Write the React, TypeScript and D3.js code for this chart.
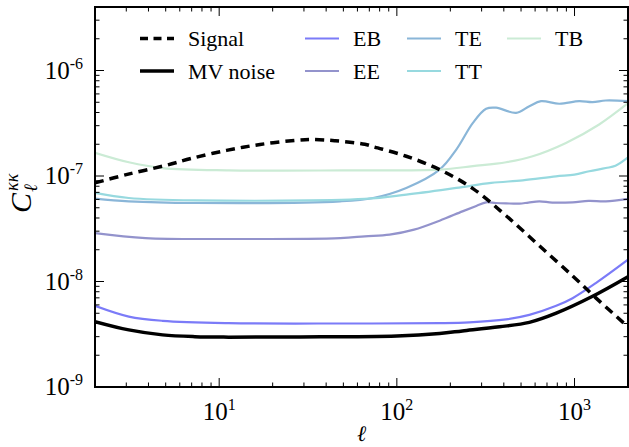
import React from "react";
import * as d3 from "d3";

const signalL = [2, 3, 5, 7, 11, 17, 27, 33, 45, 66, 75, 113, 174, 268, 412, 634, 975, 1318, 2000];
const signalC = [8.6e-8, 1.03e-7, 1.26e-7, 1.47e-7, 1.75e-7, 1.99e-7, 2.18e-7, 2.22e-7, 2.16e-7, 2.0e-7, 1.88e-7, 1.54e-7, 1.15e-7, 7.6e-8, 4.2e-8, 2.18e-8, 1.13e-8, 7.0e-9, 3.72e-9];

const mvL = [2, 3.1, 4.8, 7.3, 11.3, 28.5, 100, 174, 234, 378, 557, 789, 1256, 2000];
const mvC = [4.17e-9, 3.48e-9, 3.12e-9, 3.0e-9, 2.97e-9, 2.98e-9, 3.05e-9, 3.22e-9, 3.4e-9, 3.72e-9, 4.1e-9, 5.01e-9, 7.2e-9, 1.11e-8];

const ebL = [2, 3.1, 4.8, 11.3, 50, 174, 256, 412, 557, 789, 975, 1318, 2000];
const ebC = [5.88e-9, 4.65e-9, 4.24e-9, 4.03e-9, 4.0e-9, 4.03e-9, 4.1e-9, 4.38e-9, 4.83e-9, 5.88e-9, 6.95e-9, 9.66e-9, 1.61e-8];

const eeL = [2, 3.85, 11.3, 48, 66, 91, 125, 174, 234, 280, 318, 360, 412, 489, 550, 634, 750, 975, 1200, 1500, 2000];
const eeC = [2.88e-8, 2.58e-8, 2.53e-8, 2.58e-8, 2.68e-8, 2.78e-8, 3.1e-8, 3.77e-8, 4.62e-8, 5.2e-8, 5.63e-8, 5.55e-8, 5.5e-8, 5.47e-8, 5.6e-8, 5.75e-8, 5.6e-8, 5.63e-8, 5.8e-8, 5.75e-8, 6.06e-8];

const teL = [2, 3.1, 7.3, 48, 73.5, 113, 174, 216, 268, 318, 362, 469, 557, 648, 821, 1063, 1263, 1500, 2000];
const teC = [6.1e-8, 5.75e-8, 5.55e-8, 5.75e-8, 6.19e-8, 7.71e-8, 1.15e-7, 1.78e-7, 3.19e-7, 4.34e-7, 4.44e-7, 3.97e-7, 4.59e-7, 5.12e-7, 4.84e-7, 5.12e-7, 5.01e-7, 5.2e-7, 5.12e-7];

const ttL = [2, 3.1, 7.3, 66, 113, 216, 340, 511, 786, 1000, 1210, 1500, 1700, 2000];
const ttC = [6.91e-8, 6.19e-8, 5.88e-8, 6.06e-8, 6.66e-8, 7.71e-8, 8.6e-8, 9.1e-8, 9.93e-8, 1.03e-7, 1.11e-7, 1.19e-7, 1.25e-7, 1.5e-7];

const tbL = [2, 3.1, 4.8, 11.3, 50, 174, 268, 412, 581, 895, 1376, 2000];
const tbC = [1.66e-7, 1.35e-7, 1.19e-7, 1.13e-7, 1.13e-7, 1.15e-7, 1.24e-7, 1.35e-7, 1.54e-7, 2.06e-7, 3.08e-7, 4.9e-7];

const xTickVals = [10, 100, 1000];
const xTickExp = ["1", "2", "3"];
const yTickVals = [1e-9, 1e-8, 1e-7, 1e-6];
const yTickExp = ["-9", "-8", "-7", "-6"];

const W = 629, H = 447;
const L = 95, R = 628, T = 7, B = 387;
const FONT = "'Liberation Serif', 'Times New Roman', 'DejaVu Serif', serif";

export default function App() {
  const x = d3.scaleLog().domain([2, 2000]).range([L, R]);
  const y = d3.scaleLog().domain([1e-9, 4e-6]).range([B, T]);

  const mk = (ls: number[], cs: number[]) =>
    d3.line<number>().x((_, i) => x(ls[i])).y((c) => y(c)).curve(d3.curveCatmullRom.alpha(0.5))(cs) || "";

  const series = [
    { name: "EB", ls: ebL, cs: ebC, color: "#7b7bf8", w: 2.2 },
    { name: "EE", ls: eeL, cs: eeC, color: "#9393cc", w: 2.2 },
    { name: "TE", ls: teL, cs: teC, color: "#8ab6d8", w: 2.2 },
    { name: "TT", ls: ttL, cs: ttC, color: "#97d9df", w: 2.2 },
    { name: "TB", ls: tbL, cs: tbC, color: "#cbebd5", w: 2.2 },
  ];

  const xMinor: number[] = [];
  for (let e = 0; e <= 3; e++) for (let m = 2; m <= 9; m++) {
    const v = m * Math.pow(10, e);
    if (v > 2 && v < 2000) xMinor.push(v);
  }
  const yMinor: number[] = [];
  for (let e = -9; e <= -6; e++) for (let m = 2; m <= 9; m++) {
    const v = m * Math.pow(10, e);
    if (v < 4e-6) yMinor.push(v);
  }

  const legendItems = [
    { label: "Signal", x0: 140, row: 0, color: "#000", w: 3.5, dash: "8,5.5" },
    { label: "MV noise", x0: 140, row: 1, color: "#000", w: 3.5, dash: "" },
    { label: "EB", x0: 305, row: 0, color: series[0].color, w: 2.2, dash: "" },
    { label: "EE", x0: 305, row: 1, color: series[1].color, w: 2.2, dash: "" },
    { label: "TE", x0: 407, row: 0, color: series[2].color, w: 2.2, dash: "" },
    { label: "TT", x0: 407, row: 1, color: series[3].color, w: 2.2, dash: "" },
    { label: "TB", x0: 507, row: 0, color: series[4].color, w: 2.2, dash: "" },
  ];
  const rowY = [38.5, 71];

  return (
    <div style={{ position: "fixed", left: 0, top: 0 }}>
      <svg width={W} height={H} style={{ display: "block", background: "#fff", fontFamily: FONT }}>
        <defs>
          <clipPath id="plot">
            <rect x={L} y={T} width={R - L} height={B - T} />
          </clipPath>
        </defs>
        <g clipPath="url(#plot)" fill="none" strokeLinejoin="round">
          {series.map((s) => (
            <path key={s.name} d={mk(s.ls, s.cs)} stroke={s.color} strokeWidth={s.w} />
          ))}
          <path d={mk(mvL, mvC)} stroke="#000" strokeWidth={3.5} />
          <path d={mk(signalL, signalC)} stroke="#000" strokeWidth={3.5} strokeDasharray="9,6" />
        </g>

        <g stroke="#000" strokeWidth={1}>
          {xTickVals.map((v) => (
            <g key={"xt" + v}>
              <line x1={x(v)} x2={x(v)} y1={B} y2={B - 9} />
              <line x1={x(v)} x2={x(v)} y1={T} y2={T + 9} />
            </g>
          ))}
          {xMinor.map((v) => (
            <g key={"xm" + v}>
              <line x1={x(v)} x2={x(v)} y1={B} y2={B - 4.5} />
              <line x1={x(v)} x2={x(v)} y1={T} y2={T + 4.5} />
            </g>
          ))}
          {yTickVals.map((v) => (
            <g key={"yt" + v}>
              <line x1={L} x2={L + 9} y1={y(v)} y2={y(v)} />
              <line x1={R} x2={R - 9} y1={y(v)} y2={y(v)} />
            </g>
          ))}
          {yMinor.map((v) => (
            <g key={"ym" + v}>
              <line x1={L} x2={L + 4.5} y1={y(v)} y2={y(v)} />
              <line x1={R} x2={R - 4.5} y1={y(v)} y2={y(v)} />
            </g>
          ))}
        </g>
        <rect x={L} y={T} width={R - L} height={B - T} fill="none" stroke="#000" strokeWidth={2} />

        {xTickVals.map((v, i) => (
          <text key={"xl" + v} x={x(v)} y={B + 33} textAnchor="middle" fontSize={25} fill="#000">
            10<tspan dy={-10} fontSize={16}>{xTickExp[i]}</tspan>
          </text>
        ))}
        {yTickVals.map((v, i) => (
          <text key={"yl" + v} x={L - 12} y={y(v) + 8} textAnchor="end" fontSize={25} fill="#000">
            10<tspan dy={-10} fontSize={16}>{yTickExp[i]}</tspan>
          </text>
        ))}

        <text x={(L + R) / 2} y={441} textAnchor="middle" fontSize={22} fontStyle="italic" fill="#000">ℓ</text>
        <g transform={`translate(31, ${(T + B) / 2}) rotate(-90)`} fill="#000">
          <text x={-16} y={0} fontSize={30} fontStyle="italic">C</text>
          <text x={6} y={-13} fontSize={18} fontStyle="italic">κκ</text>
          <text x={5} y={6} fontSize={19} fontStyle="italic">ℓ</text>
        </g>

        {legendItems.map((it) => (
          <g key={it.label}>
            <line x1={it.x0} x2={it.x0 + 34} y1={rowY[it.row]} y2={rowY[it.row]} stroke={it.color}
              strokeWidth={it.w} strokeDasharray={it.dash || undefined} />
            <text x={it.x0 + 48} y={rowY[it.row] + 7.5} fontSize={22} fill="#000">{it.label}</text>
          </g>
        ))}
      </svg>
    </div>
  );
}
